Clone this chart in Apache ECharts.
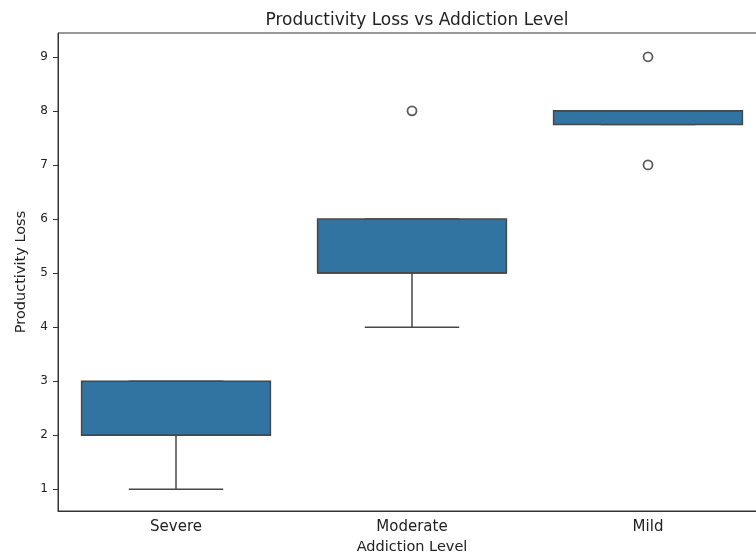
<!DOCTYPE html>
<html>
<head>
<meta charset="utf-8">
<script src="https://cdn.jsdelivr.net/npm/echarts@6/dist/echarts.min.js"></script>
<style>
  html, body { margin: 0; padding: 0; background: #ffffff; overflow: hidden; }
  /* The axes frame runs a little past the right edge of the window */
  #chart { width: 766px; height: 560px; }
</style>
</head>
<body>
<div id="chart"></div>
<script>
// Addiction level groups along the x axis
const categories = ['Severe', 'Moderate', 'Mild'];
// Five-number summaries per group: lower whisker, Q1, median, Q3, upper whisker
const whiskerLow = [1, 4, 7.75];
const quartile1 = [2, 5, 7.75];
const medians = [2, 5, 8];
const quartile3 = [3, 6, 8];
const whiskerHigh = [3, 6, 8];
// Points beyond the whiskers: [group index, value]
const outliers = [[1, 8], [2, 9], [2, 7]];
// Y tick values
const yTicks = [1, 2, 3, 4, 5, 6, 7, 8, 9];

const boxColor = '#3274a1';
const lineColor = '#474747';
const fontFamily = 'DejaVu Sans';

const boxData = categories.map((c, i) => [i, whiskerLow[i], quartile1[i], medians[i], quartile3[i], whiskerHigh[i]]);

function renderBox(params, api) {
  const idx = api.value(0);
  const band = api.size([1, 0])[0];
  const boxHalf = band * 0.8 / 2;
  const capHalf = band * 0.4 / 2;
  const pLow = api.coord([idx, api.value(1)]);
  const pQ1 = api.coord([idx, api.value(2)]);
  const pMed = api.coord([idx, api.value(3)]);
  const pQ3 = api.coord([idx, api.value(4)]);
  const pHigh = api.coord([idx, api.value(5)]);
  const x = pQ1[0];
  const lineStyle = { stroke: lineColor, lineWidth: 1.5 };
  return {
    type: 'group',
    children: [
      { type: 'line', shape: { x1: x, y1: pQ1[1], x2: x, y2: pLow[1] }, style: lineStyle },
      { type: 'line', shape: { x1: x, y1: pQ3[1], x2: x, y2: pHigh[1] }, style: lineStyle },
      { type: 'line', shape: { x1: x - capHalf, y1: pLow[1], x2: x + capHalf, y2: pLow[1] }, style: lineStyle },
      { type: 'line', shape: { x1: x - capHalf, y1: pHigh[1], x2: x + capHalf, y2: pHigh[1] }, style: lineStyle },
      {
        type: 'rect',
        shape: { x: x - boxHalf, y: pQ3[1], width: boxHalf * 2, height: pQ1[1] - pQ3[1] },
        style: { fill: boxColor, stroke: lineColor, lineWidth: 1.5 }
      },
      { type: 'line', shape: { x1: x - boxHalf, y1: pMed[1], x2: x + boxHalf, y2: pMed[1] }, style: lineStyle }
    ]
  };
}

const chart = echarts.init(document.getElementById('chart'), null, { renderer: 'canvas' });
chart.setOption({
  animation: false,
  backgroundColor: '#ffffff',
  title: {
    text: 'Productivity Loss vs Addiction Level',
    left: 412,
    top: 7,
    textAlign: 'center',
    textStyle: { fontFamily, fontSize: 17, fontWeight: 'normal', color: '#222' }
  },
  grid: {
    left: 58,
    top: 33,
    width: 708,
    height: 481,
    show: true,
    borderColor: '#333',
    borderWidth: 1,
    backgroundColor: 'transparent'
  },
  xAxis: {
    type: 'category',
    data: categories,
    name: 'Addiction Level',
    nameLocation: 'middle',
    nameGap: 29,
    nameTextStyle: { fontFamily, fontSize: 14.5, color: '#222' },
    axisLine: { lineStyle: { color: '#333', width: 1 } },
    axisTick: { alignWithLabel: true, length: 5, lineStyle: { color: '#333' } },
    axisLabel: { fontFamily, fontSize: 15, color: '#222', margin: 9 },
    splitLine: { show: false }
  },
  yAxis: {
    type: 'value',
    min: 0.6,
    max: 9.44,
    name: 'Productivity Loss',
    nameLocation: 'middle',
    nameGap: 29,
    nameTextStyle: { fontFamily, fontSize: 14.5, color: '#222' },
    axisLine: { show: true, lineStyle: { color: '#333', width: 1 } },
    axisTick: { show: true, length: 5, customValues: yTicks, lineStyle: { color: '#333' } },
    axisLabel: { fontFamily, fontSize: 12, color: '#222', margin: 10, customValues: yTicks },
    splitLine: { show: false }
  },
  series: [
    {
      type: 'custom',
      renderItem: renderBox,
      data: boxData,
      encode: { x: 0, y: [1, 2, 3, 4, 5] },
      z: 2
    },
    {
      type: 'scatter',
      data: outliers,
      symbol: 'circle',
      symbolSize: 9,
      itemStyle: { color: '#ffffff', borderColor: '#333', borderWidth: 1.8 },
      z: 3
    }
  ]
});
</script>
</body>
</html>
